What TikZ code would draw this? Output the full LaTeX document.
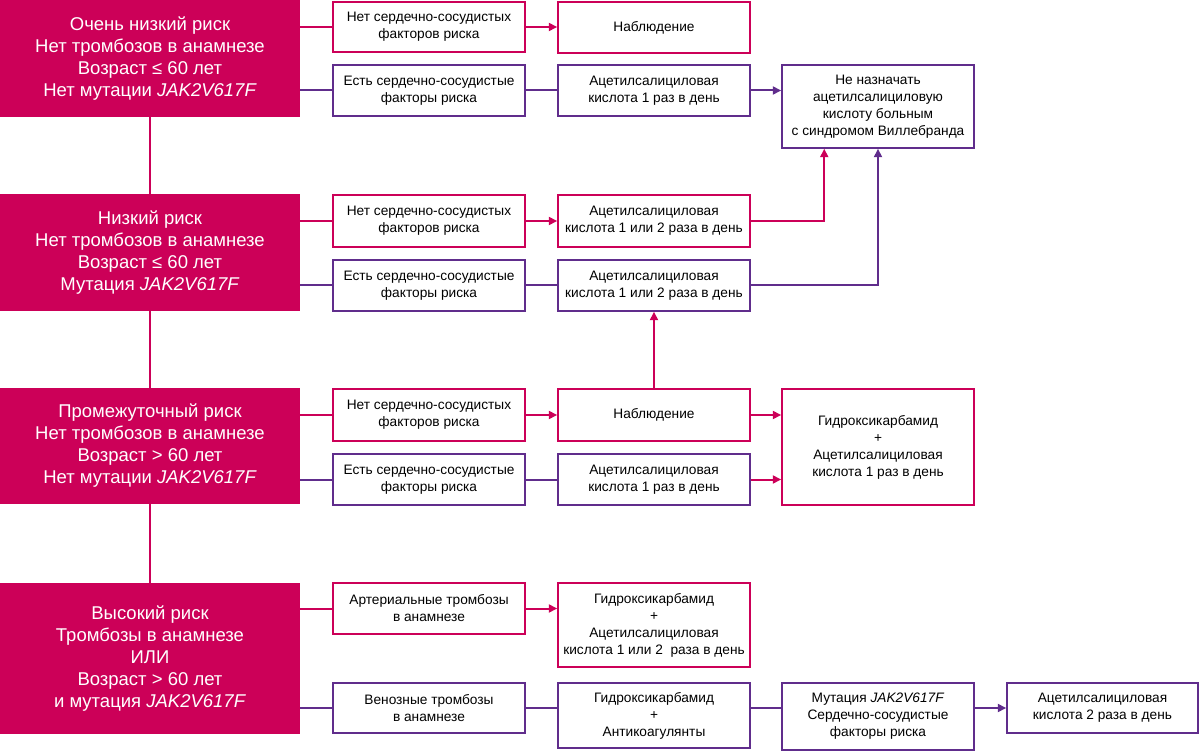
\documentclass[tikz,border=0pt]{standalone}
\usepackage{fontspec}
\setmainfont{Liberation Sans}
\usetikzlibrary{arrows.meta}
\definecolor{mag}{RGB}{204,0,88}
\definecolor{pur}{RGB}{96,45,140}
\tikzset{
  risk/.style={fill=mag, draw=none, text=white, font=\fontsize{18.5}{22}\selectfont, align=center, inner sep=0pt},
  pbox/.style={draw=mag, line width=1.5pt, fill=white, font=\fontsize{13.7}{17}\selectfont, align=center, inner sep=0pt},
  vbox/.style={draw=pur, line width=1.5pt, fill=white, font=\fontsize{13.7}{17}\selectfont, align=center, inner sep=0pt},
  mline/.style={draw=mag, line width=2pt},
  vline/.style={draw=pur, line width=2pt},
  arr/.style={-{Triangle[length=8.5pt,width=8pt]}},
}
\newcommand\bx[7]{\node[#2, minimum width={(#5-#3)*1pt}, minimum height={(#6-#4)*1pt}] (#1) at ({(#3+#5)/2},{(#4+#6)/2}) {#7};}
\begin{document}
\begin{tikzpicture}[x=1pt,y=-1pt]
\useasboundingbox (0,0) rectangle (1200,751);
% risk boxes
\bx{r1}{risk}{0}{0}{300}{117}{Очень низкий риск\\Нет тромбозов в анамнезе\\Возраст ≤ 60 лет\\Нет мутации \textit{JAK2V617F}}
\bx{r2}{risk}{0}{194}{300}{311}{Низкий риск\\Нет тромбозов в анамнезе\\Возраст ≤ 60 лет\\Мутация \textit{JAK2V617F}}
\bx{r3}{risk}{0}{388}{300}{504}{Промежуточный риск\\Нет тромбозов в анамнезе\\Возраст > 60 лет\\Нет мутации \textit{JAK2V617F}}
\bx{r4}{risk}{0}{583}{300}{734}{Высокий риск\\Тромбозы в анамнезе\\ИЛИ\\Возраст > 60 лет\\и мутация \textit{JAK2V617F}}
% row 1
\bx{a1}{pbox}{333}{2}{525}{52}{Нет сердечно-сосудистых\\факторов риска}
\bx{a2}{vbox}{333}{65}{525}{116}{Есть сердечно-сосудистые\\факторы риска}
\bx{b1}{pbox}{558}{2}{750}{53}{Наблюдение}
\bx{b2}{vbox}{558}{65}{750}{116}{Ацетилсалициловая\\кислота 1 раз в день}
\bx{c1}{vbox}{782}{65}{974}{148}{Не назначать\\ацетилсалициловую\\кислоту больным\\с синдромом Виллебранда}
% row 2
\bx{a3}{pbox}{333}{195}{525}{247}{Нет сердечно-сосудистых\\факторов риска}
\bx{a4}{vbox}{333}{260}{525}{311}{Есть сердечно-сосудистые\\факторы риска}
\bx{b3}{pbox}{558}{195}{750}{247}{Ацетилсалициловая\\кислота 1 или 2 раза в день}
\bx{b4}{vbox}{558}{260}{750}{311}{Ацетилсалициловая\\кислота 1 или 2 раза в день}
% row 3
\bx{a5}{pbox}{333}{389}{525}{441}{Нет сердечно-сосудистых\\факторов риска}
\bx{a6}{vbox}{333}{454}{525}{505}{Есть сердечно-сосудистые\\факторы риска}
\bx{b5}{pbox}{558}{389}{750}{441}{Наблюдение}
\bx{b6}{vbox}{558}{454}{750}{505}{Ацетилсалициловая\\кислота 1 раз в день}
\bx{c3}{pbox}{782}{389}{974}{505}{Гидроксикарбамид\\+\\Ацетилсалициловая\\кислота 1 раз в день}
% row 4
\bx{a7}{pbox}{333}{583}{525}{634}{Артериальные тромбозы\\в анамнезе}
\bx{a8}{vbox}{333}{683}{525}{733}{Венозные тромбозы\\в анамнезе}
\bx{b7}{pbox}{558}{583}{750}{667}{Гидроксикарбамид\\+\\Ацетилсалициловая\\кислота 1 или 2~~раза в день}
\bx{b8}{vbox}{558}{683}{750}{748}{Гидроксикарбамид\\+\\Антикоагулянты}
\bx{c8}{vbox}{782}{683}{974}{750}{Мутация \textit{JAK2V617F}\\Сердечно-сосудистые\\факторы риска}
\bx{d8}{vbox}{1007}{683}{1198}{733}{Ацетилсалициловая\\кислота 2 раза в день}
% vertical spine
\draw[mline] (r1.south) -- (r2.north);
\draw[mline] (r2.south) -- (r3.north);
\draw[mline] (r3.south) -- (r4.north);
% risk -> factors
\draw[mline] (r1.east |- a1.west) -- (a1.west);
\draw[vline] (r1.east |- a2.west) -- (a2.west);
\draw[mline] (r2.east |- a3.west) -- (a3.west);
\draw[vline] (r2.east |- a4.west) -- (a4.west);
\draw[mline] (r3.east |- a5.west) -- (a5.west);
\draw[vline] (r3.east |- a6.west) -- (a6.west);
\draw[mline] (r4.east |- a7.west) -- (a7.west);
\draw[vline] (r4.east |- a8.west) -- (a8.west);
% row 1
\draw[mline,arr] (a1.east) -- (a1.east -| b1.west);
\draw[vline] (a2.east) -- (a2.east -| b2.west);
\draw[vline,arr] (b2.east) -- (b2.east -| c1.west);
% row 2
\draw[mline,arr] (a3.east) -- (a3.east -| b3.west);
\draw[vline] (a4.east) -- (a4.east -| b4.west);
\path (c1.south west) ++(43,0) coordinate (t1);
\draw[mline,arr] (b3.east) -| (t1);
\draw[vline,arr] (b4.east) -| (c1.south);
% row 3
\draw[mline,arr] (a5.east) -- (a5.east -| b5.west);
\draw[vline] (a6.east) -- (a6.east -| b6.west);
\draw[mline,arr] (b5.east) -- (b5.east -| c3.west);
\draw[mline,arr] (b6.east) -- (b6.east -| c3.west);
\draw[mline,arr] (b5.north) -- (b4.south);
% row 4
\draw[mline,arr] (a7.east) -- (a7.east -| b7.west);
\draw[vline] (a8.east) -- (a8.east -| b8.west);
\draw[vline] (a8.east -| b8.east) -- (a8.east -| c8.west);
\draw[vline,arr] (a8.east -| c8.east) -- (a8.east -| d8.west);
\end{tikzpicture}
\end{document}
